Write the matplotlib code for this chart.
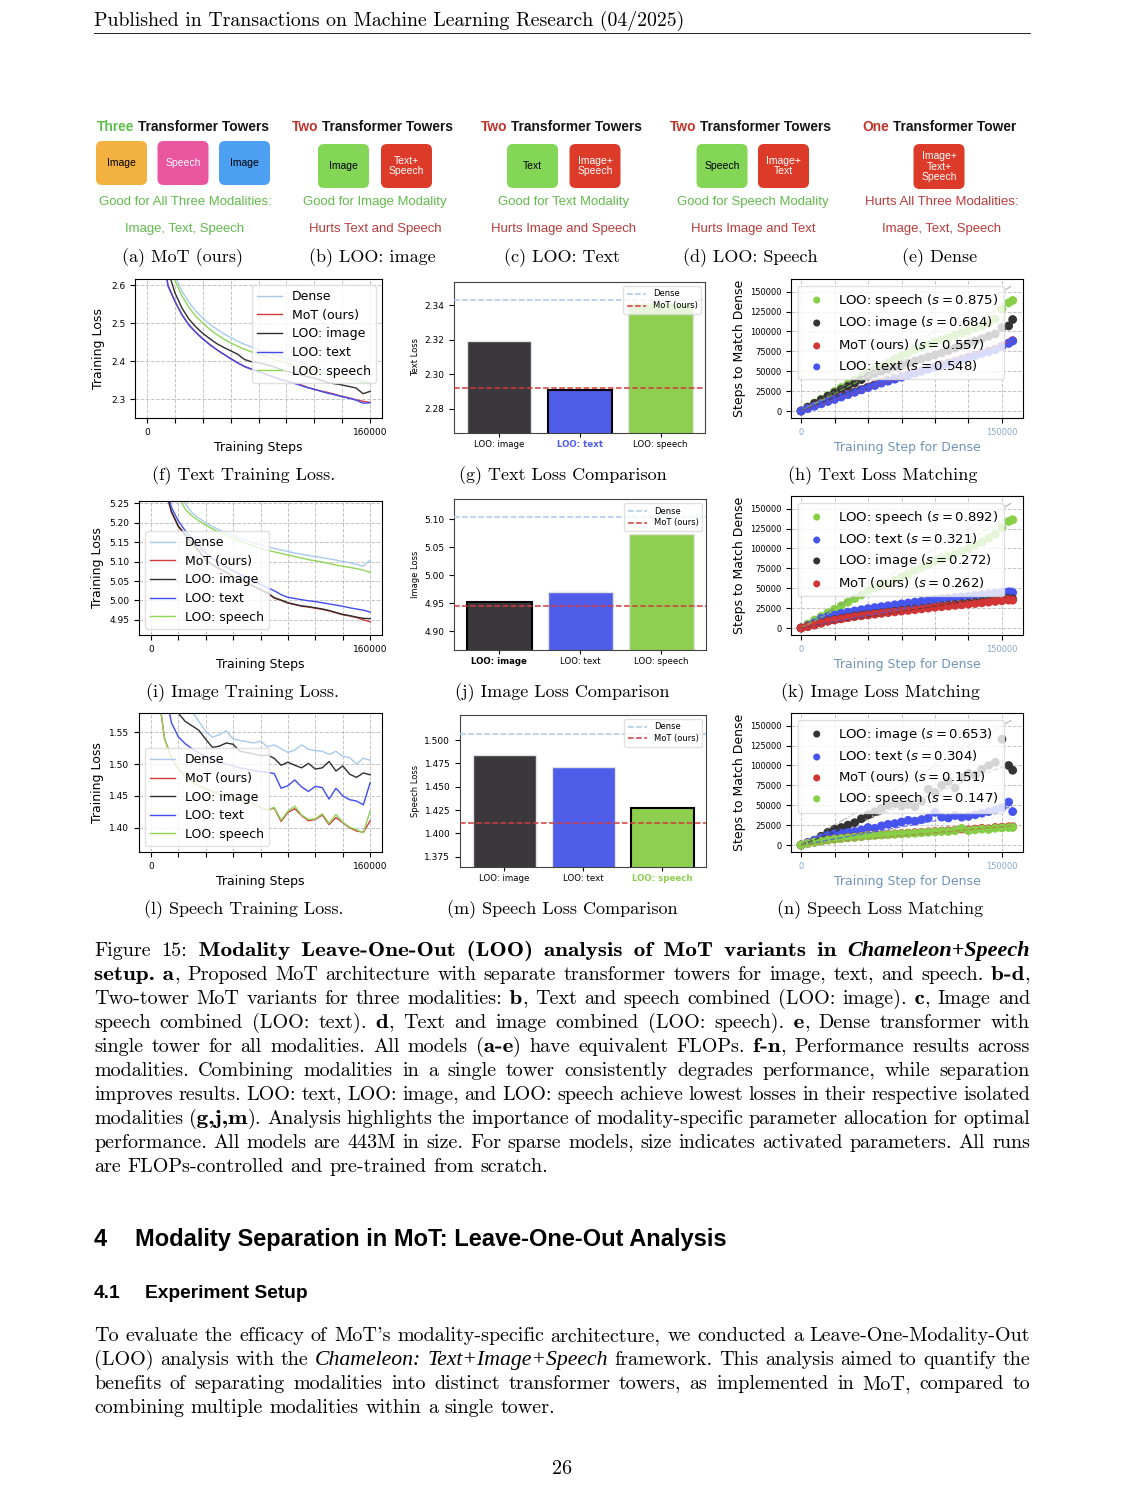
import matplotlib
matplotlib.use('Agg')
import matplotlib.pyplot as plt
from matplotlib.patches import FancyBboxPatch, PathPatch
from matplotlib.textpath import TextPath
from matplotlib.font_manager import FontProperties
from matplotlib.transforms import Affine2D

# ---------------------------------------------------------------- data
STEPS = list(range(5000, 160001, 5000))

TEXT_DENSE = [3.15, 2.85, 2.68, 2.625, 2.585, 2.555, 2.532, 2.513, 2.497, 2.484, 2.472, 2.462, 2.452, 2.444, 2.437, 2.431,
              2.425, 2.419, 2.413, 2.407, 2.402, 2.397, 2.391, 2.386, 2.380, 2.375, 2.370, 2.365, 2.359, 2.354, 2.348, 2.343]
TEXT_MOT = [3.05, 2.74, 2.60, 2.558, 2.523, 2.496, 2.476, 2.459, 2.444, 2.430, 2.418, 2.407, 2.396, 2.385, 2.378, 2.372,
            2.366, 2.360, 2.353, 2.347, 2.343, 2.338, 2.331, 2.325, 2.321, 2.317, 2.312, 2.307, 2.303, 2.298, 2.294, 2.291]
TEXT_LOO_IMAGE = [3.1, 2.79, 2.64, 2.58, 2.54, 2.511, 2.490, 2.473, 2.459, 2.446, 2.436, 2.427, 2.418, 2.404, 2.398, 2.396,
                  2.391, 2.386, 2.379, 2.373, 2.369, 2.364, 2.359, 2.355, 2.349, 2.343, 2.340, 2.337, 2.333, 2.329, 2.314, 2.320]
TEXT_LOO_TEXT = [3.04, 2.735, 2.598, 2.557, 2.522, 2.495, 2.475, 2.458, 2.443, 2.430, 2.418, 2.406, 2.395, 2.386, 2.379, 2.372,
                 2.365, 2.359, 2.352, 2.347, 2.342, 2.336, 2.330, 2.326, 2.320, 2.315, 2.311, 2.306, 2.302, 2.297, 2.289, 2.290]
TEXT_LOO_SPEECH = [3.12, 2.82, 2.66, 2.612, 2.572, 2.542, 2.518, 2.500, 2.484, 2.470, 2.458, 2.448, 2.439, 2.431, 2.424, 2.418,
                   2.412, 2.406, 2.400, 2.395, 2.390, 2.385, 2.380, 2.375, 2.370, 2.365, 2.361, 2.357, 2.352, 2.348, 2.344, 2.341]

IMAGE_DENSE = [5.95, 5.55, 5.38, 5.29, 5.25, 5.226, 5.212, 5.200, 5.190, 5.181, 5.174, 5.167, 5.160, 5.154, 5.148, 5.143,
               5.138, 5.134, 5.130, 5.126, 5.122, 5.119, 5.116, 5.113, 5.110, 5.107, 5.104, 5.100, 5.097, 5.093, 5.088, 5.104]
IMAGE_MOT = [5.6, 5.29, 5.227, 5.19, 5.169, 5.147, 5.127, 5.104, 5.091, 5.081, 5.072, 5.061, 5.053, 5.044, 5.036, 5.027,
             5.019, 5.006, 5.000, 4.993, 4.989, 4.985, 4.983, 4.980, 4.977, 4.973, 4.968, 4.963, 4.960, 4.956, 4.950, 4.945]
IMAGE_LOO_IMAGE = [5.61, 5.30, 5.23, 5.192, 5.170, 5.148, 5.128, 5.105, 5.092, 5.082, 5.073, 5.062, 5.054, 5.045, 5.037, 5.028,
                   5.020, 5.007, 5.001, 4.994, 4.990, 4.986, 4.984, 4.981, 4.978, 4.974, 4.969, 4.964, 4.961, 4.957, 4.954, 4.953]
IMAGE_LOO_TEXT = [5.62, 5.31, 5.24, 5.205, 5.18, 5.16, 5.14, 5.122, 5.108, 5.096, 5.086, 5.076, 5.067, 5.058, 5.050, 5.041,
                  5.033, 5.025, 5.015, 5.008, 5.005, 5.002, 4.999, 4.997, 4.994, 4.991, 4.988, 4.985, 4.981, 4.978, 4.975, 4.970]
IMAGE_LOO_SPEECH = [5.9, 5.5, 5.35, 5.27, 5.235, 5.218, 5.205, 5.194, 5.184, 5.175, 5.167, 5.160, 5.153, 5.146, 5.140, 5.134,
                    5.129, 5.125, 5.121, 5.117, 5.113, 5.109, 5.105, 5.102, 5.099, 5.095, 5.091, 5.088, 5.085, 5.082, 5.078, 5.072]

SPEECH_DENSE = [1.9, 1.75, 1.68, 1.63, 1.60, 1.583, 1.567, 1.551, 1.542, 1.546, 1.552, 1.539, 1.537, 1.535, 1.533, 1.536,
                1.527, 1.530, 1.524, 1.518, 1.522, 1.530, 1.523, 1.521, 1.520, 1.515, 1.520, 1.512, 1.510, 1.500, 1.509, 1.506]
SPEECH_MOT = [1.62, 1.54, 1.51, 1.492, 1.481, 1.472, 1.466, 1.461, 1.457, 1.453, 1.450, 1.447, 1.444, 1.440, 1.437, 1.432,
              1.428, 1.431, 1.410, 1.424, 1.430, 1.419, 1.411, 1.413, 1.420, 1.405, 1.416, 1.408, 1.400, 1.395, 1.393, 1.411]
SPEECH_LOO_IMAGE = [1.85, 1.70, 1.62, 1.58, 1.567, 1.560, 1.553, 1.539, 1.526, 1.528, 1.533, 1.531, 1.520, 1.518, 1.516, 1.513,
                    1.514, 1.509, 1.498, 1.503, 1.498, 1.494, 1.501, 1.492, 1.494, 1.504, 1.489, 1.497, 1.484, 1.479, 1.486, 1.483]
SPEECH_LOO_TEXT = [1.75, 1.62, 1.565, 1.543, 1.532, 1.524, 1.517, 1.512, 1.507, 1.503, 1.500, 1.497, 1.494, 1.492, 1.490, 1.488,
                   1.487, 1.485, 1.462, 1.466, 1.475, 1.464, 1.457, 1.465, 1.463, 1.445, 1.462, 1.450, 1.444, 1.442, 1.436, 1.471]
SPEECH_LOO_SPEECH = [1.62, 1.54, 1.51, 1.492, 1.481, 1.472, 1.466, 1.461, 1.457, 1.453, 1.450, 1.447, 1.444, 1.440, 1.437, 1.432,
                     1.428, 1.432, 1.412, 1.426, 1.434, 1.420, 1.413, 1.414, 1.422, 1.407, 1.421, 1.409, 1.401, 1.397, 1.392, 1.427]

BAR_LABELS = ['LOO: image', 'LOO: text', 'LOO: speech']
TEXT_BARS = [2.319, 2.291, 2.341]
TEXT_REF_DENSE, TEXT_REF_MOT = 2.343, 2.2918
IMAGE_BARS = [4.953, 4.970, 5.073]
IMAGE_REF_DENSE, IMAGE_REF_MOT = 5.1036, 4.945
SPEECH_BARS = [1.4836, 1.4714, 1.4275]
SPEECH_REF_DENSE, SPEECH_REF_MOT = 1.5064, 1.4107

# steps to match dense (thousands of steps)
MATCH_X_K = [0, 5, 10, 15, 20, 25, 30, 35, 40, 45, 50, 55, 60, 65, 70, 75, 80, 85, 90, 95, 100,
             105, 110, 115, 120, 125, 130, 135, 140, 145, 150, 155, 158]
H_SPEECH = [0, 5, 10, 15, 19.5, 24.5, 29.5, 34, 39, 44, 48.5, 52, 56, 60, 65, 69, 73, 77, 80, 83.5, 87,
            89.5, 92, 95, 98, 101, 104, 107, 111, 116, 128, 136, 139]
H_IMAGE = [0, 4.8, 9.5, 14, 18.5, 23, 27, 31, 35, 39.5, 44, 47, 50, 52.5, 55.5, 58, 60.5, 63, 65.5, 68, 70.5,
           73, 76, 79, 82, 85, 88, 91, 94, 97, 105, 107, 115]
H_MOT = [0, 3.2, 6.3, 9.4, 12.4, 15, 18, 21, 24, 27, 30, 32.8, 35.6, 38.2, 40.8, 43.3, 45.8, 48.3, 50.8, 53.3, 55.8,
         58, 60.5, 63, 65.5, 68, 70.5, 73, 75.5, 78, 82, 85.5, 88.5]
H_TEXT = [0, 3, 6, 9, 12, 14.5, 17.5, 20.5, 23.5, 26.5, 29.5, 32, 35, 37.5, 40, 42.5, 45, 47.5, 50, 52.5, 55,
          57, 59.5, 62, 64.5, 67, 69.5, 72, 74.5, 77, 81, 85, 88]
K_SPEECH = [0, 5, 10, 14.5, 19, 23.5, 28, 32.5, 37, 41.5, 47, 50, 53, 56, 60, 64, 68, 72, 76, 80, 84,
            87, 90, 93, 96.5, 100, 104, 108, 113, 118, 126, 134, 136]
K_TEXT = [0, 3, 6.5, 12, 14.5, 16.5, 18.5, 20, 21.5, 23, 24.5, 25.7, 26.9, 28, 29.2, 30.4, 31.5, 32.6, 33.7, 34.8, 36,
          36.8, 37.6, 38.4, 39.2, 40, 41, 42, 43, 44, 45, 45.5, 44.5]
K_IMAGE = [0, 2, 4, 6.5, 9, 10.5, 12, 13.5, 15, 16, 17, 18, 19, 20, 21, 22, 23, 24, 25, 26, 27,
           28, 28.8, 29.6, 30.4, 31.2, 32, 33, 34, 35, 35.8, 36.5, 36.5]
K_MOT = [0, 1.8, 3.7, 6, 8.4, 10, 11.5, 13, 14.4, 15.4, 16.4, 17.4, 18.4, 19.4, 20.3, 21.2, 22.1, 23, 24, 25, 26,
         26.8, 27.6, 28.4, 29.2, 30, 30.8, 31.6, 32.5, 33.4, 34.2, 35, 35]
N_IMAGE = [0, 3, 6, 11, 16, 20, 22, 25, 28, 33, 38, 42, 46, 50, 52, 49, 51, 48, 55, 70, 66,
           75, 80, 72, 85, 90, 88, 95, 100, 104, 133, 100, 94]
N_TEXT = [0, 3, 6, 9, 12, 14, 15, 16, 17, 19, 22, 21, 24, 26, 27, 29, 31, 30, 32, 34, 41,
          35, 34, 37, 35, 36, 38, 40, 42, 44, 47, 54, 42]
N_MOT = [0, 2, 3.5, 5, 6.5, 7.5, 8.5, 9.5, 10, 11, 12, 12.5, 13, 13.5, 14, 14.5, 15, 15.5, 16, 16.5, 17,
         17.5, 18, 18.5, 20, 19, 20, 21, 20.5, 22, 22.5, 23, 23]
N_SPEECH = [0, 2, 3.5, 5, 6.2, 7.2, 8.2, 9, 9.6, 10.5, 11.5, 12, 12.5, 13, 13.5, 14, 14.5, 14.8, 15.5, 16, 16.5,
            17, 17, 18, 21, 18, 19, 20, 19.5, 21, 21.5, 22, 22]
SLOPES_H = {'speech': 0.875, 'image': 0.684, 'mot': 0.557, 'text': 0.548}
SLOPES_K = {'speech': 0.892, 'text': 0.321, 'image': 0.272, 'mot': 0.262}
SLOPES_N = {'image': 0.653, 'text': 0.304, 'mot': 0.151, 'speech': 0.147}

# ---------------------------------------------------------------- page setup
W, H = 1124, 1494
fig = plt.figure(figsize=(W / 100, H / 100), dpi=100)
page = fig.add_axes([0, 0, 1, 1])
page.set_xlim(0, W)
page.set_ylim(H, 0)
page.axis('off')
R = fig.canvas.get_renderer()

SERIF = {'r': dict(family='cmr10'), 'b': dict(family='cmb10'),
         'i': dict(family='Liberation Serif', style='italic'),
         'bi': dict(family='Liberation Serif', style='italic', weight='bold')}
SZF = {'r': 1.0, 'b': 1.0, 'i': 1.08, 'bi': 1.1}
BOLD_STRETCH = 1.15
BOLD_FP = FontProperties(family='cmb10')
SANS = 'Liberation Sans'


def tw(s, size, **kw):
    t = page.text(0, 0, s, fontsize=size, **kw)
    w = t.get_window_extent(renderer=R).width
    t.remove()
    return w


def fit(s, target, **kw):
    return 10.0 * target / tw(s, 10, **kw)


def words_of(segments):
    words = [[]]
    for st, txt in segments:
        parts = txt.split(' ')
        for k, p in enumerate(parts):
            if k > 0:
                words.append([])
            if p:
                words[-1].append((st, p))
    return [w for w in words if w]


def piece_width(st, p, size):
    w = tw(p, size * SZF[st], **SERIF[st])
    return w * BOLD_STRETCH if st == 'b' else w


def draw_piece(x, y, st, p, size):
    if st == 'b':
        px = size * 100 / 72
        path = TextPath((0, 0), p, size=px, prop=BOLD_FP)
        tr = Affine2D().scale(BOLD_STRETCH, -1).translate(x, y) + page.transData
        page.add_patch(PathPatch(path, transform=tr, fc='black', ec='none', lw=0))
    else:
        page.text(x, y, p, fontsize=size * SZF[st], va='baseline', ha='left', **SERIF[st])


def natural_space(size):
    return 0.3333 * size * 100 / 72


def draw_rich(segments, x0, y, size, x1=None):
    words = words_of(segments)
    meas = [[(st, p, piece_width(st, p, size)) for st, p in w] for w in words]
    widths = [sum(m[2] for m in w) for w in meas]
    if x1 is not None and len(words) > 1:
        gap = (x1 - x0 - sum(widths)) / (len(words) - 1)
    else:
        gap = natural_space(size)
    x = x0
    for w in meas:
        for st, p, pw in w:
            draw_piece(x, y, st, p, size)
            x += pw
        x += gap


LX, RX = 94, 1030

# body size: calibrated so that plain justified lines have natural (TeX) inter-word spacing
CAL_LINES = ['modalities. Combining modalities in a single tower consistently degrades performance, while separation',
             'improves results. LOO: text, LOO: image, and LOO: speech achieve lowest losses in their respective isolated',
             'performance. All models are 443M in size. For sparse models, size indicates activated parameters. All runs']
ks = []
for line in CAL_LINES:
    ws = line.split(' ')
    wsum = sum(tw(w, 10, family='cmr10') for w in ws)
    ks.append((RX - LX) / (wsum + (len(ws) - 1) * natural_space(10)))
BODY = 10 * sum(ks) / len(ks)

# header
header = 'Published in Transactions on Machine Learning Research (04/2025)'
page.text(LX, 26, header, fontsize=fit(header, 592, family='cmr10'), family='cmr10', va='baseline')
page.plot([LX, RX], [33, 33], color='black', lw=0.6)

# ---------------------------------------------------------------- architecture diagrams
GREEN_T, RED_T = '#5fbf4b', '#c0332b'
GREEN_D, RED_D = '#62bb4c', '#bb3b3b'
ORANGE, PINK, BLUE, GREENB, REDB = '#f3b13f', '#ea559f', '#4c9ff1', '#84d656', '#dc3b29'

TS = fit('Three Transformer Towers', 172, family=SANS, weight='bold')
DS = fit('Good for All Three Modalities:', 174, family=SANS)
BS = fit('Image', 29, family=SANS)
SUB = fit('(a) MoT (ours)', 121, family='cmr10')
sp_t = tw('a a', TS, family=SANS, weight='bold') - tw('aa', TS, family=SANS, weight='bold')


def draw_title(cx, first, rest, color):
    w1 = tw(first, TS, family=SANS, weight='bold')
    w2 = tw(rest, TS, family=SANS, weight='bold')
    x = cx - (w1 + sp_t + w2) / 2
    page.text(x, 131, first, fontsize=TS, family=SANS, weight='bold', color=color, va='baseline')
    page.text(x + w1 + sp_t, 131, rest, fontsize=TS, family=SANS, weight='bold', color='#151515', va='baseline')


def draw_box(cx, top, h, label, fc, tc):
    w = 51
    page.add_patch(FancyBboxPatch((cx - w / 2, top), w, h, boxstyle='round,pad=0,rounding_size=6',
                                  fc=fc, ec='none'))
    page.text(cx, top + h / 2, label, ha='center', va='center', fontsize=BS, color=tc,
              family=SANS, linespacing=1.1)


DIAG = [
    (183, 'Three', 'Transformer Towers', GREEN_T, 141, 44,
     [(121.5, 'Image', ORANGE, 'black'), (183, 'Speech', PINK, 'white'), (244.5, 'Image', BLUE, 'black')],
     185, ('Good for All Three Modalities:', GREEN_D), ('Image, Text, Speech', GREEN_D), '(a) MoT (ours)'),
    (372.5, 'Two', 'Transformer Towers', RED_T, 144, 44,
     [(343.5, 'Image', GREENB, 'black'), (406.5, 'Text+\nSpeech', REDB, 'white')],
     375, ('Good for Image Modality', GREEN_D), ('Hurts Text and Speech', RED_D), '(b) LOO: image'),
    (561.5, 'Two', 'Transformer Towers', RED_T, 144, 44,
     [(532.5, 'Text', GREENB, 'black'), (595, 'Image+\nSpeech', REDB, 'white')],
     564, ('Good for Text Modality', GREEN_D), ('Hurts Image and Speech', RED_D), '(c) LOO: Text'),
    (750.5, 'Two', 'Transformer Towers', RED_T, 144, 44,
     [(722, 'Speech', GREENB, 'black'), (783.5, 'Image+\nText', REDB, 'white')],
     753, ('Good for Speech Modality', GREEN_D), ('Hurts Image and Text', RED_D), '(d) LOO: Speech'),
    (939.5, 'One', 'Transformer Tower', RED_T, 144, 45,
     [(939, 'Image+\nText+\nSpeech', REDB, 'white')],
     942, ('Hurts All Three Modalities:', RED_D), ('Image, Text, Speech', RED_D), '(e) Dense'),
]
for cx, first, rest, tcol, top, bh, boxes, dcx, l1, l2, sub in DIAG:
    draw_title(cx, first, rest, tcol)
    for bx, lab, fc, tc in boxes:
        draw_box(bx, top, bh, lab, fc, tc)
    page.text(dcx, 205, l1[0], fontsize=DS, family=SANS, color=l1[1], ha='center', va='baseline')
    page.text(dcx, 232, l2[0], fontsize=DS, family=SANS, color=l2[1], ha='center', va='baseline')
    page.text(cx, 262, sub, fontsize=SUB, family='cmr10', ha='center', va='baseline')

# ---------------------------------------------------------------- charts
C_DENSE, C_MOT, C_IMG, C_TXT, C_SPE = '#a9c9ea', '#d23b3b', '#2e2e2e', '#3f4cf2', '#8fd655'
B_IMG, B_TXT, B_SPE = '#3a383d', '#4f5de8', '#8ecf4f'
S_COL = {'speech': '#86cf47', 'image': '#333333', 'mot': '#d23535', 'text': '#4655ee'}
S_NAME = {'speech': 'LOO: speech', 'image': 'LOO: image', 'mot': 'MoT (ours)', 'text': 'LOO: text'}


def px_axes(l, t, r, b):
    return fig.add_axes([l / W, 1 - b / H, (r - l) / W, (b - t) / H])


def loss_chart(box, series, ylim, yticks, fmt, loc):
    ax = px_axes(*box)
    for name, vals, col in series:
        ax.plot(STEPS, vals, color=col, lw=1.0, label=name)
    ax.set_xlim(-8600, 168600)
    ax.set_ylim(*ylim)
    ax.set_xticks(list(range(0, 160001, 20000)))
    ax.set_xticklabels(['0'] + [''] * 7 + ['160000'])
    ax.set_yticks(yticks)
    ax.set_yticklabels([format(v, fmt) for v in yticks])
    ax.tick_params(labelsize=6.5, length=3.5, width=0.8)
    ax.grid(True, ls='--', lw=0.7, color='#b5b5b5', alpha=0.8)
    ax.set_xlabel('Training Steps', fontsize=9, labelpad=3)
    ax.set_ylabel('Training Loss', fontsize=9, labelpad=4)
    ax.legend(loc=loc, fontsize=9, framealpha=0.8, edgecolor='0.85', borderpad=0.4, labelspacing=0.45)
    return ax


def bar_chart(box, vals, dense, mot, ylim, yticks, fmt, ylabel, hi, hi_color):
    ax = px_axes(*box)
    edges = ['#e2e2e2'] * 3
    lws = [1.0] * 3
    edges[hi] = 'black'
    lws[hi] = 1.5
    ax.bar(range(3), vals, width=0.8, color=[B_IMG, B_TXT, B_SPE], edgecolor=edges, linewidth=lws, zorder=2)
    ax.axhline(dense, color=C_DENSE, ls='--', lw=1.1, label='Dense', zorder=3)
    ax.axhline(mot, color=C_MOT, ls='--', lw=1.1, label='MoT (ours)', zorder=3)
    ax.set_xlim(-0.56, 2.55)
    ax.set_ylim(*ylim)
    ax.set_yticks(yticks)
    ax.set_yticklabels([format(v, fmt) for v in yticks])
    ax.set_xticks(range(3))
    ax.set_xticklabels(BAR_LABELS)
    ax.tick_params(axis='y', labelsize=6.5, length=3.5, width=0.8)
    ax.tick_params(axis='x', labelsize=6.2, length=3.0, width=0.8, pad=2)
    lab = ax.get_xticklabels()[hi]
    lab.set_fontweight('bold')
    lab.set_color(hi_color)
    ax.set_ylabel(ylabel, fontsize=6, labelpad=3)
    ax.legend(loc='upper right', fontsize=6, framealpha=0.8, edgecolor='0.85', handlelength=2.3,
              borderpad=0.4, labelspacing=0.35)
    for s in ax.spines.values():
        s.set_color('#444444')
    return ax


def match_chart(box, order, data, slopes):
    ax = px_axes(*box)
    xs = [v * 1000 for v in MATCH_X_K]
    ax.plot([0, 158000], [0, 158000], ls='-.', color='gray', lw=1.0, alpha=0.5, zorder=4)
    for key in order:
        ax.scatter(xs, [v * 1000 for v in data[key]], s=40, color=S_COL[key], edgecolors='none', zorder=3,
                   label=f'{S_NAME[key]} ($s={slopes[key]:.3f}$)')
    for key in order:
        ax.plot([0, 158000], [0, slopes[key] * 158000], ls='--', color=S_COL[key], lw=1.0, alpha=0.7, zorder=4)
    ax.set_xlim(-7500, 165700)
    ax.set_ylim(-8800, 166000)
    ax.set_xticks(list(range(0, 150001, 25000)))
    ax.set_xticklabels(['0'] + [''] * 5 + ['150000'])
    ax.set_yticks(list(range(0, 150001, 25000)))
    ax.set_yticklabels([str(v) for v in range(0, 150001, 25000)])
    ax.tick_params(labelsize=6, length=3.5, width=0.8)
    ax.tick_params(axis='x', labelcolor='#86a6cc')
    ax.grid(True, ls='--', lw=0.7, color='#b5b5b5', alpha=0.8)
    ax.set_xlabel('Training Step for Dense', fontsize=9, color='#6f93bb', labelpad=3)
    ax.set_ylabel('Steps to Match Dense', fontsize=9, labelpad=3)
    ax.legend(loc='upper left', fontsize=9.5, framealpha=0.8, edgecolor='0.85', handletextpad=0.6,
              borderpad=0.45, labelspacing=0.45, scatterpoints=1, markerscale=0.8)
    return ax


def series(d, m, i, t, s):
    return [('Dense', d, C_DENSE), ('MoT (ours)', m, C_MOT), ('LOO: image', i, C_IMG),
            ('LOO: text', t, C_TXT), ('LOO: speech', s, C_SPE)]


# row 1 : text
loss_chart((135, 279, 382, 418),
           series(TEXT_DENSE, TEXT_MOT, TEXT_LOO_IMAGE, TEXT_LOO_TEXT, TEXT_LOO_SPEECH),
           (2.25, 2.616), [2.3, 2.4, 2.5, 2.6], '.1f', 'upper right')
bar_chart((454, 282, 705, 433), TEXT_BARS, TEXT_REF_DENSE, TEXT_REF_MOT, (2.266, 2.3533),
          [2.28, 2.30, 2.32, 2.34], '.2f', 'Text Loss', 1, B_TXT)
match_chart((791, 279, 1023, 418), ['speech', 'image', 'mot', 'text'],
            {'speech': H_SPEECH, 'image': H_IMAGE, 'mot': H_MOT, 'text': H_TEXT}, SLOPES_H)

# row 2 : image
loss_chart((139, 501, 382, 635),
           series(IMAGE_DENSE, IMAGE_MOT, IMAGE_LOO_IMAGE, IMAGE_LOO_TEXT, IMAGE_LOO_SPEECH),
           (4.911, 5.256), [4.95, 5.00, 5.05, 5.10, 5.15, 5.20, 5.25], '.2f', 'lower left')
bar_chart((454, 499, 706, 650), IMAGE_BARS, IMAGE_REF_DENSE, IMAGE_REF_MOT, (4.867, 5.136),
          [4.90, 4.95, 5.00, 5.05, 5.10], '.2f', 'Image Loss', 0, 'black')
match_chart((791, 496, 1023, 635), ['speech', 'text', 'image', 'mot'],
            {'speech': K_SPEECH, 'image': K_IMAGE, 'mot': K_MOT, 'text': K_TEXT}, SLOPES_K)

# row 3 : speech
loss_chart((139, 713, 382, 852),
           series(SPEECH_DENSE, SPEECH_MOT, SPEECH_LOO_IMAGE, SPEECH_LOO_TEXT, SPEECH_LOO_SPEECH),
           (1.362, 1.580), [1.40, 1.45, 1.50, 1.55], '.2f', 'lower left')
bar_chart((460, 715, 706, 867), SPEECH_BARS, SPEECH_REF_DENSE, SPEECH_REF_MOT, (1.364, 1.5268),
          [1.375, 1.400, 1.425, 1.450, 1.475, 1.500], '.3f', 'Speech Loss', 2, B_SPE)
match_chart((791, 713, 1023, 852), ['image', 'text', 'mot', 'speech'],
            {'speech': N_SPEECH, 'image': N_IMAGE, 'mot': N_MOT, 'text': N_TEXT}, SLOPES_N)

# sub-captions of charts
SUBCAPS = [(243.5, 480, '(f) Text Training Loss.'), (562.5, 480, '(g) Text Loss Comparison'),
           (882.5, 480, '(h) Text Loss Matching'),
           (243, 697, '(i) Image Training Loss.'), (562.5, 697, '(j) Image Loss Comparison'),
           (880.5, 697, '(k) Image Loss Matching'),
           (243.5, 914, '(l) Speech Training Loss.'), (562, 914, '(m) Speech Loss Comparison'),
           (880.5, 914, '(n) Speech Loss Matching')]
for x, y, s in SUBCAPS:
    page.text(x, y, s, fontsize=SUB, family='cmr10', ha='center', va='baseline')

# ---------------------------------------------------------------- caption
CAPTION = [
    [('r', 'Figure 15: '), ('b', 'Modality Leave-One-Out (LOO) analysis of MoT variants in '), ('bi', 'Chameleon+Speech')],
    [('b', 'setup. a'), ('r', ', Proposed MoT architecture with separate transformer towers for image, text, and speech. '),
     ('b', 'b-d'), ('r', ',')],
    [('r', 'Two-tower MoT variants for three modalities: '), ('b', 'b'), ('r', ', Text and speech combined (LOO: image). '),
     ('b', 'c'), ('r', ', Image and')],
    [('r', 'speech combined (LOO: text). '), ('b', 'd'), ('r', ', Text and image combined (LOO: speech). '), ('b', 'e'),
     ('r', ', Dense transformer with')],
    [('r', 'single tower for all modalities. All models ('), ('b', 'a-e'), ('r', ') have equivalent FLOPs. '),
     ('b', 'f-n'), ('r', ', Performance results across')],
    [('r', 'modalities. Combining modalities in a single tower consistently degrades performance, while separation')],
    [('r', 'improves results. LOO: text, LOO: image, and LOO: speech achieve lowest losses in their respective isolated')],
    [('r', 'modalities ('), ('b', 'g,j,m'), ('r', '). Analysis highlights the importance of modality-specific parameter allocation for optimal')],
    [('r', 'performance. All models are 443M in size. For sparse models, size indicates activated parameters. All runs')],
    [('r', 'are FLOPs-controlled and pre-trained from scratch.')],
]
for k, segs in enumerate(CAPTION):
    last = k == len(CAPTION) - 1
    draw_rich(segs, LX, 956 + 24 * k, BODY, None if last else RX)

# ---------------------------------------------------------------- section headings
sec = 'Modality Separation in MoT: Leave-One-Out Analysis'
SS = fit(sec, 590, family=SANS, weight='bold')
page.text(LX, 1246, '4', fontsize=SS, family=SANS, weight='bold', va='baseline')
page.text(135, 1246, sec, fontsize=SS, family=SANS, weight='bold', va='baseline')
sub = 'Experiment Setup'
SSS = fit(sub, 163, family=SANS, weight='bold')
page.text(LX, 1298, '4.1', fontsize=SSS, family=SANS, weight='bold', va='baseline')
page.text(145, 1298, sub, fontsize=SSS, family=SANS, weight='bold', va='baseline')

PARA = [
    [('r', "To evaluate the efficacy of MoT's modality-specific architecture, we conducted a Leave-One-Modality-Out")],
    [('r', '(LOO) analysis with the '), ('i', 'Chameleon: Text+Image+Speech'), ('r', ' framework. This analysis aimed to quantify the')],
    [('r', 'benefits of separating modalities into distinct transformer towers, as implemented in MoT, compared to')],
    [('r', 'combining multiple modalities within a single tower.')],
]
for k, segs in enumerate(PARA):
    last = k == len(PARA) - 1
    draw_rich(segs, LX, 1341 + 24 * k, BODY, None if last else RX)

page.text(562, 1474, '26', fontsize=BODY, family='cmr10', ha='center', va='baseline')

fig.savefig('out.png', dpi=100)
